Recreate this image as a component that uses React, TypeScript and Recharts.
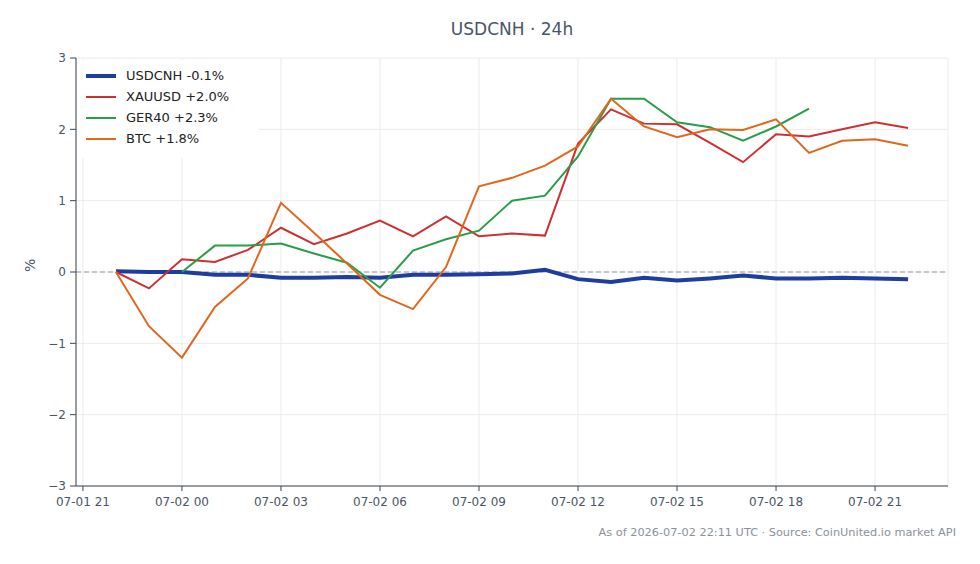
import React from "react";
import {
  LineChart,
  Line,
  XAxis,
  YAxis,
  CartesianGrid,
  ReferenceLine,
} from "recharts";

// hours after 07-01 21:00 UTC
const hours = [1, 2, 3, 4, 5, 6, 7, 8, 9, 10, 11, 12, 13, 14, 15, 16, 17, 18, 19, 20, 21, 22, 23, 24, 25];

const usdcnh = [0.01, 0.0, 0.0, -0.04, -0.04, -0.08, -0.08, -0.07, -0.08, -0.04, -0.04, -0.03, -0.02, 0.03, -0.1, -0.14, -0.08, -0.12, -0.09, -0.05, -0.09, -0.09, -0.08, -0.09, -0.1];
const xauusd = [0, -0.23, 0.18, 0.14, 0.31, 0.62, 0.39, 0.54, 0.72, 0.5, 0.78, 0.5, 0.54, 0.51, 1.8, 2.28, 2.08, 2.07, 1.81, 1.54, 1.93, 1.9, 2.0, 2.1, 2.02];
const ger40 = [null, null, 0, 0.37, 0.37, 0.4, 0.26, 0.13, -0.22, 0.3, 0.46, 0.58, 1.0, 1.07, 1.62, 2.43, 2.43, 2.1, 2.03, 1.84, 2.04, 2.29, null, null, null];
const btc = [0, -0.76, -1.2, -0.49, -0.09, 0.97, 0.55, 0.12, -0.32, -0.52, 0.07, 1.2, 1.32, 1.49, 1.76, 2.43, 2.04, 1.89, 2.0, 1.99, 2.14, 1.67, 1.84, 1.86, 1.77];

const xTicks = [0, 3, 6, 9, 12, 15, 18, 21, 24];
const xTickLabels = ["07-01 21", "07-02 00", "07-02 03", "07-02 06", "07-02 09", "07-02 12", "07-02 15", "07-02 18", "07-02 21"];
const yTicks = [-3, -2, -1, 0, 1, 2, 3];

const series = [
  { key: "usdcnh", label: "USDCNH -0.1%", color: "#1f3d9e", width: 4 },
  { key: "xauusd", label: "XAUUSD +2.0%", color: "#cc3030", width: 2 },
  { key: "ger40", label: "GER40 +2.3%", color: "#2a9d48", width: 2 },
  { key: "btc", label: "BTC +1.8%", color: "#e0671e", width: 2 },
];

const data = hours.map((h, i) => ({
  h,
  usdcnh: usdcnh[i],
  xauusd: xauusd[i],
  ger40: ger40[i],
  btc: btc[i],
}));

const FONT = "'DejaVu Sans', sans-serif";
const TEXT = "#4a5566";

export default function App() {
  return (
    <div style={{ position: "fixed", left: 0, top: 0, width: 980, height: 564, background: "#fff" }}>
      <div
        style={{
          position: "absolute",
          left: 76,
          width: 872,
          top: 19,
          textAlign: "center",
          fontFamily: FONT,
          fontSize: 17,
          color: TEXT,
        }}
      >
        USDCNH · 24h
      </div>
      <LineChart
        width={980}
        height={564}
        data={data}
        margin={{ top: 58, right: 32, bottom: 48, left: 0 }}
      >
        <CartesianGrid stroke="#ebebeb" />
        <XAxis
          dataKey="h"
          type="number"
          domain={[-0.21, 26.21]}
          ticks={xTicks}
          tickFormatter={(v: number) => xTickLabels[xTicks.indexOf(v)]}
          height={30}
          tickSize={5}
          tickMargin={6}
          stroke="#3d4654"
          tick={{ fill: TEXT, fontSize: 12, fontFamily: FONT }}
        />
        <YAxis
          type="number"
          domain={[-3, 3]}
          ticks={yTicks}
          width={76}
          tickSize={6}
          tickMargin={4}
          stroke="#3d4654"
          tickFormatter={(v: number) => (v < 0 ? "\u2212" + Math.abs(v) : String(v))}
          tick={{ fill: TEXT, fontSize: 12, fontFamily: FONT }}
          label={{
            value: "%",
            angle: -90,
            position: "insideLeft",
            offset: 30,
            style: { fill: TEXT, fontSize: 14, fontFamily: FONT },
          }}
        />
        <ReferenceLine y={0} stroke="#8e9ab3" strokeDasharray="5 3" strokeWidth={1} />
        {series.map((s) => (
          <Line
            key={s.key}
            dataKey={s.key}
            stroke={s.color}
            strokeWidth={s.width}
            dot={false}
            type="linear"
            isAnimationActive={false}
          />
        ))}
      </LineChart>
      <div
        style={{
          position: "absolute",
          left: 78,
          top: 60,
          padding: "5px 30px 9px 8px",
          fontFamily: FONT,
          fontSize: 13,
          color: "#222",
          background: "#fff",
        }}
      >
        {series.map((s) => (
          <div key={s.key} style={{ display: "flex", alignItems: "center", height: 21 }}>
            <div style={{ width: 30, height: s.width, background: s.color, marginRight: 10 }} />
            <span>{s.label}</span>
          </div>
        ))}
      </div>
      <div
        style={{
          position: "absolute",
          right: 24,
          top: 526,
          fontFamily: FONT,
          fontSize: 11.3,
          color: "#8a919c",
        }}
      >
        As of 2026-07-02 22:11 UTC · Source: CoinUnited.io market API
      </div>
    </div>
  );
}
